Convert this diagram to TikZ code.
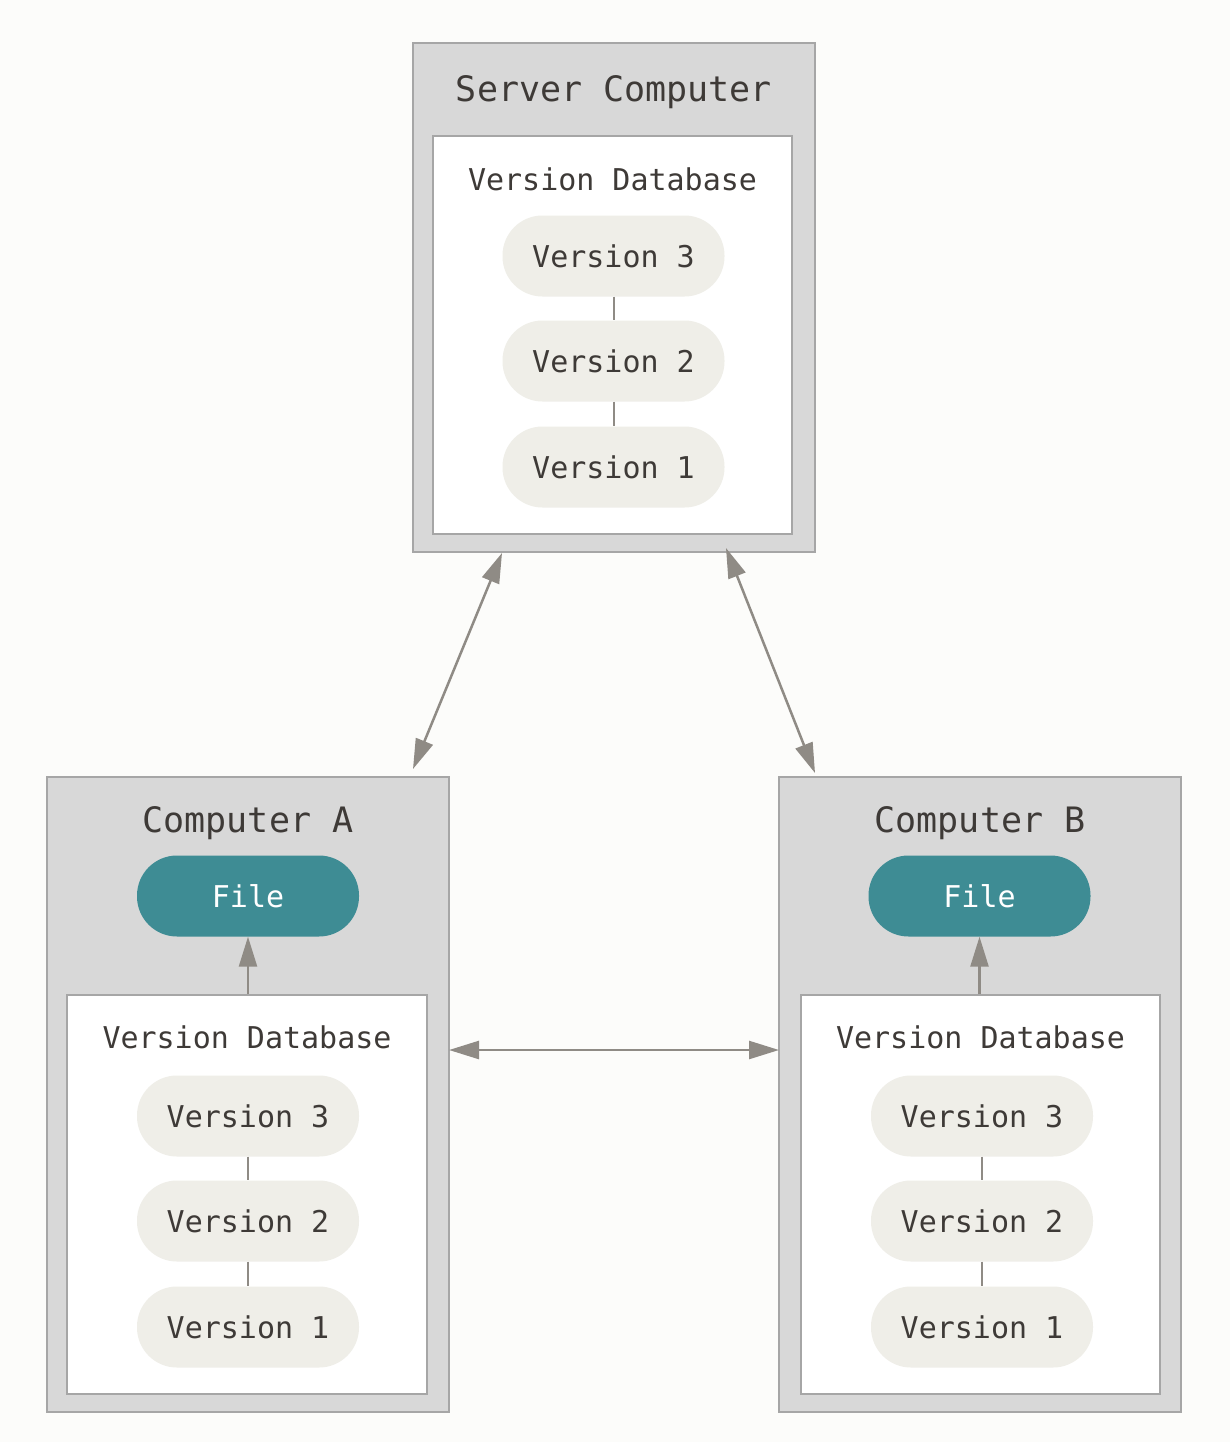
\documentclass[tikz,border=0pt]{standalone}
\usepackage{fontspec}
\setmonofont{DejaVu Sans Mono}
\usetikzlibrary{arrows.meta,positioning,calc}
\definecolor{bgpaper}{HTML}{FCFCFA}
\definecolor{boxgray}{HTML}{D8D8D8}
\definecolor{boxline}{HTML}{A6A6A6}
\definecolor{pillgray}{HTML}{EFEEE8}
\definecolor{fileteal}{HTML}{3E8C94}
\definecolor{inkdark}{HTML}{3E3A37}
\definecolor{arrowgray}{HTML}{8F8B85}

\begin{document}
\begin{tikzpicture}[x=1pt,y=-1pt,font=\ttfamily,
  outerbox/.style={draw=boxline,line width=2pt,fill=boxgray,inner sep=0pt},
  innerbox/.style={draw=boxline,line width=2pt,fill=white,inner sep=0pt},
  title/.style={anchor=base,text=inkdark,font=\ttfamily\fontsize{35}{40}\selectfont},
  dbtitle/.style={anchor=base,text=inkdark,font=\ttfamily\fontsize{30}{36}\selectfont},
  pill/.style={fill=pillgray,rounded corners=40pt,minimum width=222pt,minimum height=81pt,
    text height=22pt,text depth=0pt,inner sep=0pt,text=inkdark,font=\ttfamily\fontsize{30}{36}\selectfont},
  filepill/.style={pill,fill=fileteal,text=white},
  link/.style={draw=arrowgray,line width=2pt},
  sync/.style={draw=arrowgray,line width=2.5pt,{Triangle[length=30pt,width=18pt]}-{Triangle[length=30pt,width=18pt]}},
  checkout/.style={draw=arrowgray,line width=2.5pt,-{Triangle[length=30pt,width=18pt]}}]
\fill[bgpaper] (0,0) rectangle (1230,1442);
\useasboundingbox (0,0) rectangle (1230,1442);

% server
\node[outerbox,minimum width=402pt,minimum height=509pt] (server) at (614,297.5) {};
\node[innerbox,minimum width=359pt,minimum height=398pt] (serverdb) at (612.5,335) {};
\node[title] (serverT) at (614,102) {Server Computer};
\node[dbtitle] (serverdbT) at (612.5,190) {Version Database};
\node[pill] (s3) at (613.5,256) {Version 3};
\node[pill] (s2) at (613.5,361) {Version 2};
\node[pill] (s1) at (613.5,467) {Version 1};
\draw[link] (s3) -- (s2) (s2) -- (s1);

% computer A
\node[outerbox,minimum width=402pt,minimum height=635pt] (compA) at (248,1094.5) {};
\node[innerbox,minimum width=360pt,minimum height=399pt] (dbA) at (247,1194.5) {};
\node[title] (compAT) at (248,832) {Computer A};
\node[filepill] (fileA) at (248,896) {File};
\node[dbtitle] (dbAT) at (247,1048) {Version Database};
\node[pill] (a3) at (248,1116) {Version 3};
\node[pill] (a2) at (248,1221) {Version 2};
\node[pill] (a1) at (248,1327) {Version 1};
\draw[link] (a3) -- (a2) (a2) -- (a1);
\draw[checkout] (dbA.north -| fileA) -- (fileA);

% computer B
\node[outerbox,minimum width=402pt,minimum height=635pt] (compB) at (980,1094.5) {};
\node[innerbox,minimum width=359pt,minimum height=399pt] (dbB) at (980.5,1194.5) {};
\node[title] (compBT) at (980,832) {Computer B};
\node[filepill] (fileB) at (979.5,896) {File};
\node[dbtitle] (dbBT) at (980.5,1048) {Version Database};
\node[pill] (b3) at (982,1116) {Version 3};
\node[pill] (b2) at (982,1221) {Version 2};
\node[pill] (b1) at (982,1327) {Version 1};
\draw[link] (b3) -- (b2) (b2) -- (b1);
\draw[checkout] (dbB.north -| fileB) -- (fileB);

% syncing
\coordinate (serverSW) at (502,553);
\coordinate (serverSE) at (726,548);
\coordinate (compAtip) at (413,769);
\coordinate (compBtip) at (815,773);
\coordinate (compAside) at (449,1050);
\coordinate (compBside) at (779,1050);
\draw[sync] (serverSW) -- (compAtip);
\draw[sync] (serverSE) -- (compBtip);
\draw[sync] (compAside) -- (compBside);
\end{tikzpicture}
\end{document}
